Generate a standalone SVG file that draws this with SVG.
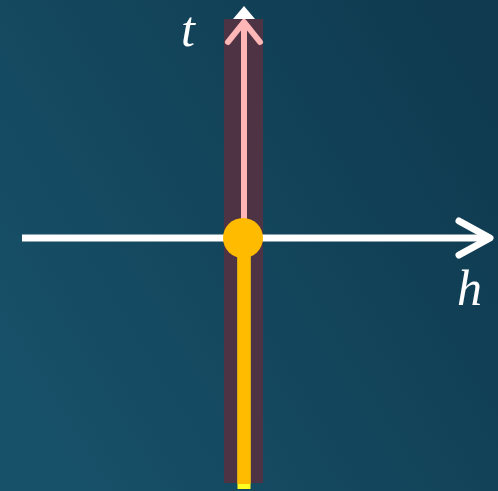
<svg xmlns="http://www.w3.org/2000/svg" width="498" height="491" viewBox="0 0 498 491">
<defs>
<linearGradient id="bg" x1="0" y1="0.8" x2="1" y2="0.2">
<stop offset="0" stop-color="#175169"/>
<stop offset="1" stop-color="#0f3a4f"/>
</linearGradient>
</defs>
<style>
.lbl{font-family:"Liberation Serif","DejaVu Serif",serif;font-style:italic;font-size:50px;fill:#ffffff}
.ax{stroke:#ffffff;stroke-width:7;fill:none;stroke-linecap:round;stroke-linejoin:round}
</style>
<rect width="498" height="491" fill="url(#bg)"/>
<g id="band"><rect x="224" y="19" width="39" height="464" fill="#4d3344"/></g>
<g id="connectors">
<path d="M22 238 H490" class="ax" style="stroke-linecap:butt"/>
<path d="M459 221 L490 238 L459 255" class="ax"/>
<path d="M244 238 V24" stroke="#ffb6b6" stroke-width="6" fill="none"/>
<path d="M228 42 L244 22 L260 42" stroke="#ffb6b6" stroke-width="6" fill="none" stroke-linecap="round" stroke-linejoin="round"/>
<polygon points="244,6 233,19 255,19" fill="#ffffff"/>
<path d="M244 238 V489" stroke="#ffff22" stroke-width="13" fill="none"/>
<path d="M244 238 V484" stroke="#ffbb00" stroke-width="13" fill="none"/>
</g>
<g id="origin"><circle cx="243" cy="238" r="20" fill="#ffbb00"/></g>
<g id="label-t"><text x="181" y="46" class="lbl">t</text></g>
<g id="label-h"><text x="457" y="305" class="lbl">h</text></g>
</svg>
